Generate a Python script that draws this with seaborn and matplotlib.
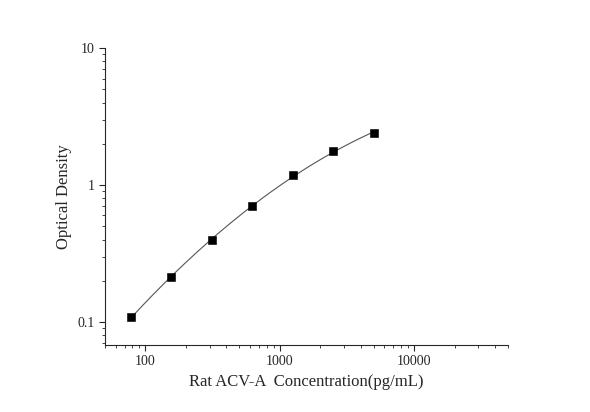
import numpy as np
import pandas as pd
import seaborn as sns
import matplotlib
matplotlib.use("Agg")
import matplotlib.pyplot as plt
from matplotlib.ticker import LogLocator, FuncFormatter, NullFormatter

conc = [78.125, 156.25, 312.5, 625, 1250, 2500, 5000]
od = [0.109, 0.213, 0.397, 0.70, 1.18, 1.77, 2.40]

sns.set_style("ticks")
plt.rcParams['font.family'] = ['Liberation Serif', 'DejaVu Serif']

fig = plt.figure(figsize=(5.9, 4.12), dpi=100)
ax = fig.add_axes([0.178, 0.163, 0.683, 0.72])

# fitted curve (quadratic in log-log space)
lx, ly = np.log10(conc), np.log10(od)
coef = np.polyfit(lx, ly, 2)
xs = np.linspace(lx[0], lx[-1], 200)
fit = pd.DataFrame({"x": 10**xs, "y": 10**np.polyval(coef, xs)})
sns.lineplot(data=fit, x="x", y="y", ax=ax, color="#555555", lw=0.8)
df = pd.DataFrame({"x": conc, "y": od})
sns.scatterplot(data=df, x="x", y="y", ax=ax, marker="s", color="black", s=28, edgecolor="black", zorder=3)

ax.set_xscale("log"); ax.set_yscale("log")
ax.set_xlim(50, 50000); ax.set_ylim(0.068, 10)
fmt = FuncFormatter(lambda v, p: f"{v:g}")
ax.xaxis.set_major_formatter(fmt); ax.yaxis.set_major_formatter(fmt)
ax.xaxis.set_minor_formatter(NullFormatter()); ax.yaxis.set_minor_formatter(NullFormatter())
ax.tick_params(which="major", length=4, labelsize=10)
ax.tick_params(which="minor", length=2)
sns.despine(ax=ax)
ax.set_xlabel("Rat ACV-A  Concentration(pg/mL)", fontsize=12)
ax.set_ylabel("Optical Density", fontsize=12)
fig.savefig("out.png", dpi=100)
